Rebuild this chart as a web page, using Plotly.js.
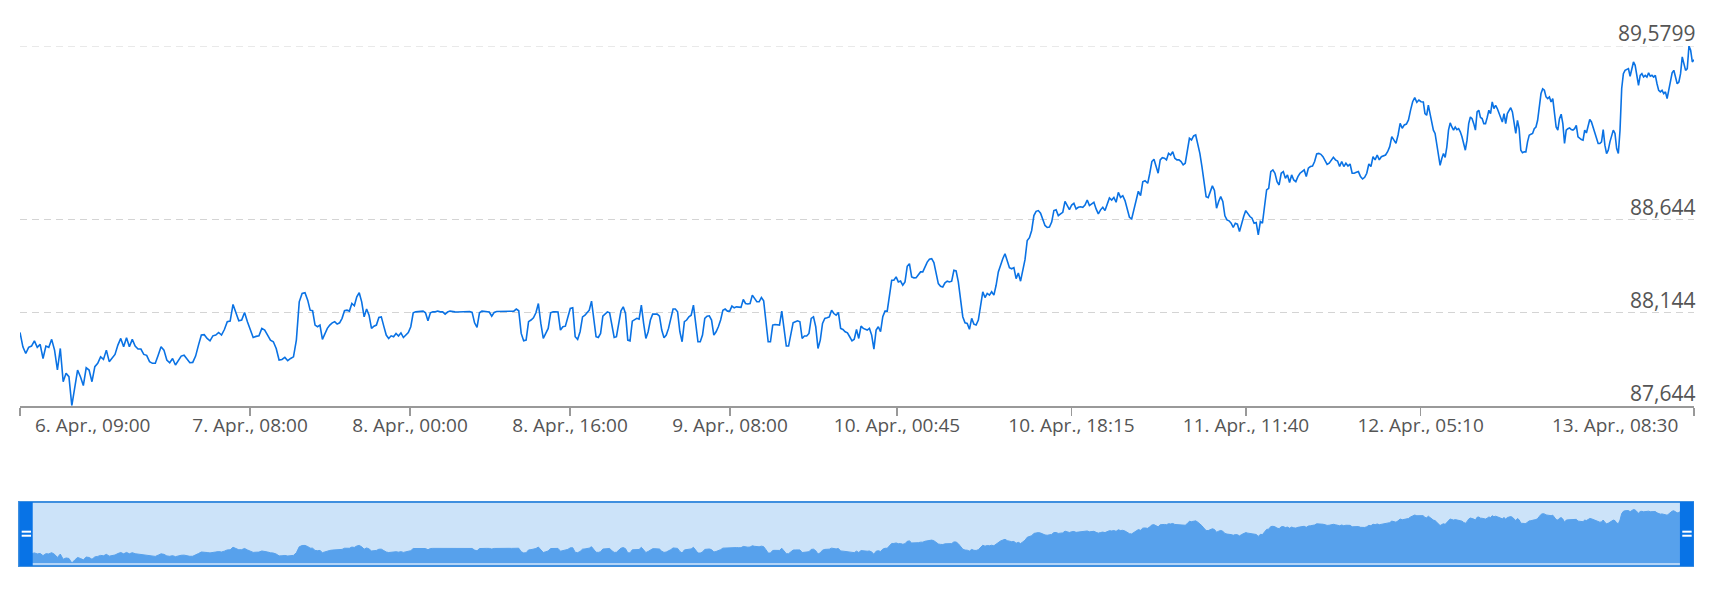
<!DOCTYPE html>
<html>
<head>
<meta charset="utf-8">
<script src="https://cdn.plot.ly/plotly-3.0.1.min.js"></script>
<style>
  html, body { margin: 0; padding: 0; background: #fff; }
  #chart { width: 1712px; height: 600px; }
</style>
</head>
<body>
<div id="chart"></div>
<script>
// ── Quotes, in six stretches of the ordinal axis ──
const segA = [
  88.038, 87.961, 87.925, 87.958, 87.965, 87.993, 87.958, 87.974, 87.898, 87.965,
  87.958, 88.001, 87.943, 87.836, 87.952, 87.773, 87.818, 87.800, 87.644, 87.746,
  87.836, 87.800, 87.752, 87.848, 87.836, 87.773, 87.854, 87.872, 87.907, 87.893,
  87.943, 87.881, 87.898, 87.920, 87.970, 88.006, 87.961, 88.010, 87.961, 88.001,
  87.965, 87.949, 87.949, 87.920, 87.915, 87.881, 87.872, 87.872, 87.916, 87.961,
  87.943, 87.890, 87.875, 87.898, 87.863, 87.890, 87.911, 87.916, 87.893, 87.875,
  87.877, 87.911, 87.970, 88.024, 88.026, 88.006, 87.993, 88.020, 88.024, 88.038,
  88.024, 88.054, 88.096, 88.099, 88.189, 88.144, 88.101, 88.105, 88.146, 88.096,
  88.051, 88.011, 88.017, 88.020, 88.060, 88.051, 88.024, 87.997, 87.988, 87.952,
  87.890, 87.893, 87.904, 87.886, 87.898, 87.907, 87.997, 88.203, 88.248, 88.252
];
const segB = [
  88.212, 88.158, 88.155, 88.078, 88.069, 88.078, 88.001, 88.033, 88.060, 88.078,
  88.090, 88.096, 88.083, 88.090, 88.114, 88.155, 88.158, 88.153, 88.194, 88.182,
  88.230, 88.252, 88.203, 88.122, 88.164, 88.131, 88.060, 88.072, 88.078, 88.119,
  88.122, 88.072, 88.024, 88.006, 88.020, 88.015, 88.033, 88.019, 88.036, 88.011,
  88.024, 88.038, 88.069, 88.144, 88.149, 88.149, 88.149, 88.153, 88.144, 88.101,
  88.144, 88.149, 88.149, 88.153, 88.149, 88.149, 88.137, 88.148, 88.153, 88.149,
  88.149, 88.148, 88.148, 88.149, 88.149, 88.149, 88.151, 88.146, 88.090, 88.065,
  88.144, 88.153, 88.151, 88.149, 88.148, 88.126, 88.146, 88.151, 88.151, 88.149,
  88.149, 88.149, 88.151, 88.149, 88.153, 88.164, 88.155, 88.033, 87.993, 87.997,
  88.096, 88.105, 88.117, 88.144, 88.194, 88.087, 88.006, 88.033, 88.060, 88.144,
  88.149, 88.149, 88.148, 88.051, 88.069, 88.072, 88.114, 88.167, 88.171, 88.015,
  88.001, 88.042, 88.122, 88.131
];
const segC = [
  88.144, 88.158, 88.207, 88.105, 88.015, 88.011, 88.033, 88.126, 88.140, 88.149,
  88.144, 88.069, 88.011, 88.015, 88.078, 88.155, 88.176, 88.140, 87.997, 87.993,
  88.099, 88.105, 88.114, 88.110, 88.185, 88.087, 88.006, 88.042, 88.105, 88.137,
  88.137, 88.137, 88.126, 88.051, 88.010, 88.024, 88.060, 88.105, 88.164, 88.164,
  88.149, 88.042, 87.988, 88.096, 88.105, 88.122, 88.131, 88.185, 88.096, 87.988,
  87.988, 88.024, 88.114, 88.126, 88.128, 88.105, 88.024, 88.042, 88.069, 88.105,
  88.158, 88.164, 88.153, 88.153, 88.180, 88.171, 88.176, 88.173, 88.173, 88.216,
  88.194, 88.191, 88.194, 88.239, 88.221, 88.203, 88.203, 88.226, 88.209, 88.105,
  87.988, 87.988, 88.078, 88.081, 88.081, 88.078, 88.153, 88.069, 87.965, 87.965,
  88.024, 88.090, 88.096, 88.101, 88.096, 88.006, 88.019, 88.019, 88.033, 88.114,
  88.122, 88.069, 87.952, 87.997, 88.087, 88.114, 88.117, 88.122, 88.158, 88.140,
  88.131, 88.146, 88.060, 88.054, 88.042, 88.036, 88.015, 87.993, 88.002, 88.054,
  88.006, 88.072, 88.060
];
const segD = [
  88.055, 88.051, 88.060, 88.024, 87.948, 88.051, 88.069, 88.042, 88.123, 88.153,
  88.153, 88.248, 88.319, 88.319, 88.337, 88.310, 88.315, 88.292, 88.310, 88.394,
  88.408, 88.337, 88.332, 88.333, 88.346, 88.364, 88.364, 88.396, 88.417, 88.432,
  88.435, 88.414, 88.364, 88.301, 88.287, 88.283, 88.305, 88.314, 88.310, 88.314,
  88.373, 88.369, 88.310, 88.212, 88.123, 88.090, 88.087, 88.055, 88.114, 88.083,
  88.078, 88.105, 88.194, 88.257, 88.226, 88.248, 88.239, 88.257, 88.239, 88.292,
  88.364, 88.405, 88.435, 88.462, 88.417, 88.387, 88.381, 88.387, 88.328, 88.358,
  88.314, 88.373, 88.430, 88.533, 88.548, 88.587, 88.667, 88.690, 88.694, 88.680,
  88.640, 88.614, 88.603, 88.605, 88.632, 88.694, 88.698, 88.667, 88.676, 88.685,
  88.744, 88.721, 88.699, 88.724, 88.733, 88.703, 88.712, 88.715, 88.712, 88.724,
  88.751, 88.721, 88.730, 88.739, 88.703, 88.676, 88.698, 88.712, 88.694, 88.730,
  88.762, 88.751, 88.765, 88.739, 88.792, 88.765, 88.774, 88.748, 88.694, 88.658,
  88.649, 88.694, 88.748, 88.798, 88.774, 88.849, 88.855
];
const segE = [
  88.841, 88.895, 88.958, 88.970, 88.931, 88.895, 88.967, 88.979, 88.976, 88.967,
  89.002, 88.993, 89.011, 88.976, 88.967, 88.967, 88.958, 88.940, 88.949, 89.011,
  89.083, 89.074, 89.096, 89.101, 89.056, 89.002, 88.931, 88.841, 88.769, 88.764,
  88.796, 88.827, 88.802, 88.707, 88.743, 88.769, 88.743, 88.666, 88.644, 88.639,
  88.626, 88.603, 88.626, 88.621, 88.581, 88.626, 88.662, 88.694, 88.676, 88.662,
  88.653, 88.626, 88.630, 88.563, 88.635, 88.626, 88.716, 88.805, 88.814, 88.904,
  88.913, 88.895, 88.850, 88.832, 88.895, 88.904, 88.868, 88.886, 88.845, 88.886,
  88.859, 88.850, 88.877, 88.895, 88.904, 88.913, 88.877, 88.922, 88.931, 88.934,
  88.958, 88.999, 89.002, 88.997, 88.984, 88.967, 88.943, 88.949, 88.967, 88.981,
  88.967, 88.961, 88.931, 88.958, 88.931, 88.949, 88.934, 88.945, 88.895, 88.895,
  88.900, 88.904, 88.877, 88.864, 88.873, 88.895, 88.945, 88.931, 88.984, 88.967,
  88.993, 88.967, 88.984, 88.988, 88.993, 89.011, 89.038, 89.092, 89.074, 89.056,
  89.101, 89.164, 89.137, 89.155, 89.160, 89.182, 89.235, 89.280, 89.302, 89.277,
  89.289, 89.280
];
const segF = [
  89.279, 89.216, 89.207, 89.261, 89.216, 89.162, 89.127, 89.109, 89.055, 88.983,
  88.938, 88.974, 89.001, 88.980, 89.037, 89.127, 89.166, 89.144, 89.127, 89.144,
  89.130, 89.135, 89.118, 89.091, 89.046, 89.019, 89.073, 89.162, 89.198, 89.189,
  89.162, 89.127, 89.225, 89.234, 89.195, 89.189, 89.162, 89.162, 89.195, 89.234,
  89.216, 89.279, 89.243, 89.261, 89.243, 89.216, 89.198, 89.171, 89.216, 89.162,
  89.216, 89.234, 89.248, 89.225, 89.171, 89.109, 89.180, 89.135, 89.019, 89.006,
  89.010, 89.010, 89.064, 89.100, 89.105, 89.109, 89.135, 89.144, 89.180, 89.252,
  89.324, 89.349, 89.342, 89.306, 89.297, 89.306, 89.279, 89.297, 89.225, 89.144,
  89.127, 89.189, 89.213, 89.162, 89.055, 89.127, 89.135, 89.139, 89.130, 89.127,
  89.135, 89.153, 89.091, 89.082, 89.076, 89.073, 89.127, 89.112, 89.144, 89.184,
  89.171, 89.144, 89.118, 89.091, 89.055, 89.055, 89.064, 89.130, 89.046, 89.001,
  89.019, 89.064, 89.100, 89.127, 89.109, 89.028, 89.001, 89.127, 89.351, 89.431,
  89.449, 89.453, 89.458, 89.417, 89.458, 89.494, 89.476, 89.413, 89.368, 89.422,
  89.431, 89.413, 89.422, 89.413, 89.435, 89.417, 89.422, 89.413, 89.422, 89.377,
  89.341, 89.333, 89.341, 89.324, 89.333, 89.297, 89.341, 89.395, 89.435, 89.449,
  89.413, 89.377, 89.386, 89.431, 89.521, 89.485, 89.449, 89.458, 89.5799, 89.557,
  89.494, 89.506
];

// ordinal slot (gaps removed) where each stretch starts / ends
const segFrom = [0,   287.7, 567,   845,  1127.7, 1403.3];
const segTo   = [285, 565,   843.3, 1125, 1401,   1674];

const tickSlots  = [0, 230, 390, 550, 710, 877, 1051.5, 1226, 1400.6, 1674];
const tickLabels = [
  '6. Apr., 09:00', '7. Apr., 08:00', '8. Apr., 00:00', '8. Apr., 16:00',
  '9. Apr., 08:00', '10. Apr., 00:45', '10. Apr., 18:15', '11. Apr., 11:40',
  '12. Apr., 05:10', '13. Apr., 08:30'
];

const yTicks  = [87.644, 88.144, 88.644, 89.5799];
const yLabels = ['87,644', '88,144', '88,644', '89,5799'];

// ── Build the series on the ordinal axis ──
const xs = [], ys = [];
[segA, segB, segC, segD, segE, segF].forEach((seg, k) => {
  const step = (segTo[k] - segFrom[k]) / (seg.length - 1);
  seg.forEach((v, i) => { xs.push(segFrom[k] + i * step); ys.push(v); });
});

const FONT  = 'Open Sans, Noto Sans, sans-serif';
const LABEL = '#555555';
const GRID  = { color: '#d4d4d4', width: 1, dash: '7px,5px' };
const SPAN  = [0, 1674];
const yMin  = yTicks[0], yMax = yTicks[yTicks.length - 1];

const traces = [
  {
    x: xs, y: ys, type: 'scatter', mode: 'lines',
    line: { color: '#0a72e4', width: 1.6 },
    hoverinfo: 'skip', xaxis: 'x', yaxis: 'y',
  },
  {
    // navigator
    x: xs, y: ys, type: 'scatter', mode: 'lines', fill: 'tozeroy',
    fillcolor: '#57a1ec', line: { color: '#57a1ec', width: 1 },
    hoverinfo: 'skip', xaxis: 'x2', yaxis: 'y2',
  },
];

// navigator frame + handles
const nav = { xref: 'x2 domain', yref: 'y2 domain' };
const shapes = [
  // Plotly skips the gridline sitting on the range end, so draw the top one
  { type: 'line', xref: 'x domain', yref: 'y', x0: 0, x1: 1, y0: yMax, y1: yMax, line: GRID, layer: 'below' },
  { ...nav, type: 'rect', x0: 0, x1: 1, y0: 0, y1: 1, fillcolor: '#cce3f9', line: { width: 0 }, layer: 'below' },
  { ...nav, type: 'line', x0: 0, x1: 1, y0: 0.03, y1: 0.03, line: { color: '#d2e6fb', width: 1.5 } },
  { ...nav, type: 'rect', x0: -0.0006, x1: 0.9994, y0: 0, y1: 1, fillcolor: 'rgba(0,0,0,0)', line: { color: '#3f8fdf', width: 2 } },
  { ...nav, type: 'rect', x0: -0.0004, x1: 0.0076, y0: 0, y1: 1, fillcolor: '#0873e6', line: { width: 0 } },
  { ...nav, type: 'line', x0: 0.001, x1: 0.0066, y0: 0.536, y1: 0.536, line: { color: '#ffffff', width: 2 } },
  { ...nav, type: 'line', x0: 0.001, x1: 0.0066, y0: 0.473, y1: 0.473, line: { color: '#ffffff', width: 2 } },
  { ...nav, type: 'rect', x0: 0.9916, x1: 0.9998, y0: 0, y1: 1, fillcolor: '#0873e6', line: { width: 0 } },
  { ...nav, type: 'line', x0: 0.9930, x1: 0.9986, y0: 0.536, y1: 0.536, line: { color: '#ffffff', width: 2 } },
  { ...nav, type: 'line', x0: 0.9930, x1: 0.9986, y0: 0.473, y1: 0.473, line: { color: '#ffffff', width: 2 } },
];

// y labels sit above their gridlines at the right edge
const annotations = yTicks.map((v, i) => ({
  xref: 'paper', x: 1, xanchor: 'right', xshift: 3,
  yref: 'y', y: v, yanchor: 'bottom', yshift: -3,
  text: yLabels[i], showarrow: false,
  font: { family: FONT, size: 21, color: LABEL },
}));
// first / last x labels are pushed inside the chart
const last = tickLabels.length - 1;
annotations.push(
  { xref: 'x', x: tickSlots[0], xanchor: 'left', xshift: 13,
    yref: 'y', y: yMin, yanchor: 'top', yshift: -4,
    text: tickLabels[0], showarrow: false, font: { family: FONT, size: 19, color: LABEL } },
  { xref: 'x', x: tickSlots[last], xanchor: 'right', xshift: -14,
    yref: 'y', y: yMin, yanchor: 'top', yshift: -4,
    text: tickLabels[last], showarrow: false, font: { family: FONT, size: 19, color: LABEL } }
);

const layout = {
  width: 1712, height: 600,
  margin: { l: 20, r: 18, t: 46, b: 34 },
  paper_bgcolor: '#ffffff', plot_bgcolor: 'rgba(0,0,0,0)',
  showlegend: false,
  font: { family: FONT, color: LABEL },
  xaxis: {
    domain: [0, 1], anchor: 'y', range: SPAN,
    tickmode: 'array', tickvals: tickSlots,
    ticktext: tickLabels.map((t, i) => (i === 0 || i === last) ? '' : t),
    ticks: 'outside', ticklen: 8, tickwidth: 1.5, tickcolor: '#999999',
    ticklabelstandoff: -6,
    showline: true, linecolor: '#999999', linewidth: 2,
    showgrid: false, zeroline: false,
    tickfont: { family: FONT, size: 19, color: LABEL },
  },
  yaxis: {
    domain: [0.3083, 1], anchor: 'x', range: [yMin, yMax],
    tickmode: 'array', tickvals: yTicks, showticklabels: false, ticks: '',
    showgrid: true, gridcolor: GRID.color, gridwidth: GRID.width, griddash: GRID.dash,
    zeroline: false,
  },
  xaxis2: { domain: [0, 1], anchor: 'y2', range: SPAN, visible: false },
  yaxis2: { domain: [0, 0.1231], anchor: 'x2', range: [87.540, 89.753], visible: false },
  shapes, annotations,
};

Plotly.newPlot('chart', traces, layout, { displayModeBar: false, staticPlot: true });
</script>
</body>
</html>
